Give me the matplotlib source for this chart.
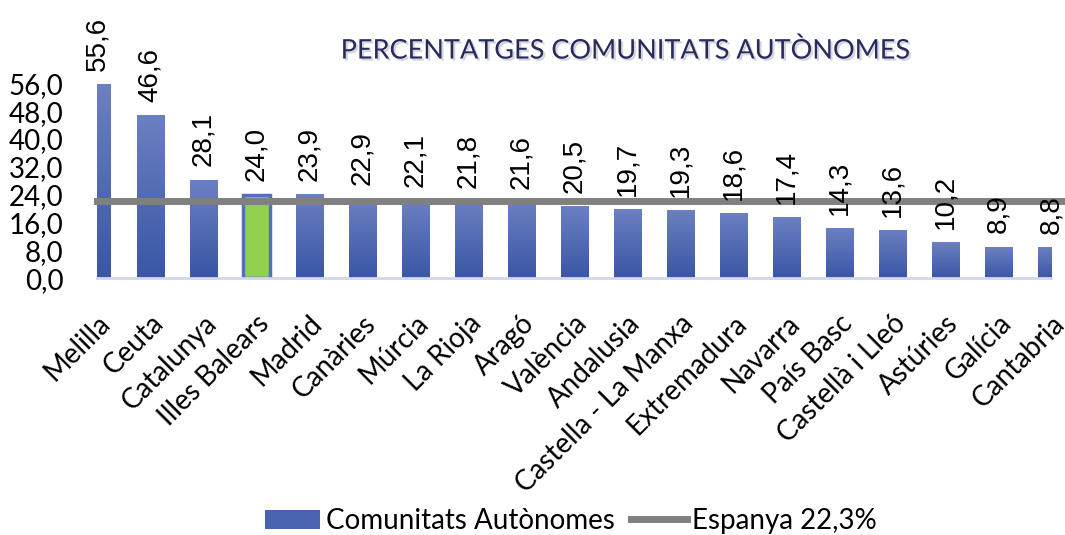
import numpy as np
import matplotlib.pyplot as plt
import matplotlib.patheffects as pe
import matplotlib.transforms as mtransforms
from matplotlib.patches import Patch
from matplotlib.lines import Line2D
from matplotlib.colors import LinearSegmentedColormap

comunitats = ['Melilla', 'Ceuta', 'Catalunya', 'Illes Balears', 'Madrid', 'Canàries',
              'Múrcia', 'La Rioja', 'Aragó', 'València', 'Andalusia',
              'Castella - La Manxa', 'Extremadura', 'Navarra', 'País Basc',
              'Castellà i Lleó', 'Astúries', 'Galícia', 'Cantabria']
percentatges = [55.6, 46.6, 28.1, 24.0, 23.9, 22.9, 22.1, 21.8, 21.6, 20.5, 19.7,
                19.3, 18.6, 17.4, 14.3, 13.6, 10.2, 8.9, 8.8]
espanya = 22.3
destacat = 'Illes Balears'
yticks = [0, 8, 16, 24, 32, 40, 48, 56]

font = 'Lato'
fig = plt.figure(figsize=(10.65, 5.35), dpi=100)
ax = fig.add_axes([0.0911, 0.480, 0.8958, 0.3645])

x = np.arange(len(comunitats))
width = 0.51
grad = np.linspace(0, 1, 100).reshape(-1, 1)
cmap = LinearSegmentedColormap.from_list('blau', ['#3a56a5', '#6b80c1'])

for xi, val, nom in zip(x, percentatges, comunitats):
    if nom == destacat:
        ax.bar(xi, val, width, color='#92d050', edgecolor='#5470bd', linewidth=2.5, zorder=2)
    else:
        ax.imshow(grad, extent=(xi - width / 2, xi + width / 2, 0, val), origin='lower',
                  cmap=cmap, aspect='auto', zorder=2)
    ax.annotate(f'{val:.1f}'.replace('.', ','), (xi, val), xytext=(0, 10),
                textcoords='offset points', rotation=90, ha='center', va='bottom',
                fontsize=20, family='Liberation Sans', annotation_clip=False, zorder=4)

# línia de la mitjana d'Espanya, una mica més llarga que l'eix
ax.axhline(espanya, xmin=0, xmax=1.0126, color='#808080', linewidth=5, clip_on=False, zorder=3)

ax.set_xlim(0, len(comunitats) - 1)
ax.set_ylim(0, 56)
ax.set_yticks(yticks)
ax.set_yticklabels([f'{t:.1f}'.replace('.', ',') for t in yticks], fontsize=20, family=font)
ax.set_xticks(x)
ax.set_xticklabels(comunitats, rotation=45, ha='right', rotation_mode='anchor',
                   fontsize=20, family=font)
desplaca = mtransforms.ScaledTranslation(-18 / 72, 0, fig.dpi_scale_trans)
for lbl in ax.get_xticklabels():
    lbl.set_transform(lbl.get_transform() + desplaca)
ax.tick_params(length=0)
ax.tick_params(axis='x', pad=23)
ax.tick_params(axis='y', pad=24)
for s in ['top', 'right', 'left']:
    ax.spines[s].set_visible(False)
ax.spines['bottom'].set_color('#d3d6ee')
ax.spines['bottom'].set_linewidth(2)

fig.text(0.588, 0.905, 'PERCENTATGES COMUNITATS AUTÒNOMES', ha='center', va='center',
         fontsize=19.5, family=font, color='#262b5c',
         path_effects=[pe.SimplePatchShadow(offset=(1.5, -1.5), shadow_rgbFace='#b8b8c8', alpha=0.6),
                       pe.Normal()])

handles = [Patch(facecolor='#4a63b0'), Line2D([], [], color='#808080', linewidth=5)]
fig.legend(handles, ['Comunitats Autònomes', 'Espanya 22,3%'], loc='center',
           bbox_to_anchor=(0.536, 0.026), ncol=2, frameon=False,
           prop={'family': font, 'size': 20}, handlelength=2.0, handletextpad=0.2,
           columnspacing=0.6)

fig.savefig('out.png', dpi=100)
